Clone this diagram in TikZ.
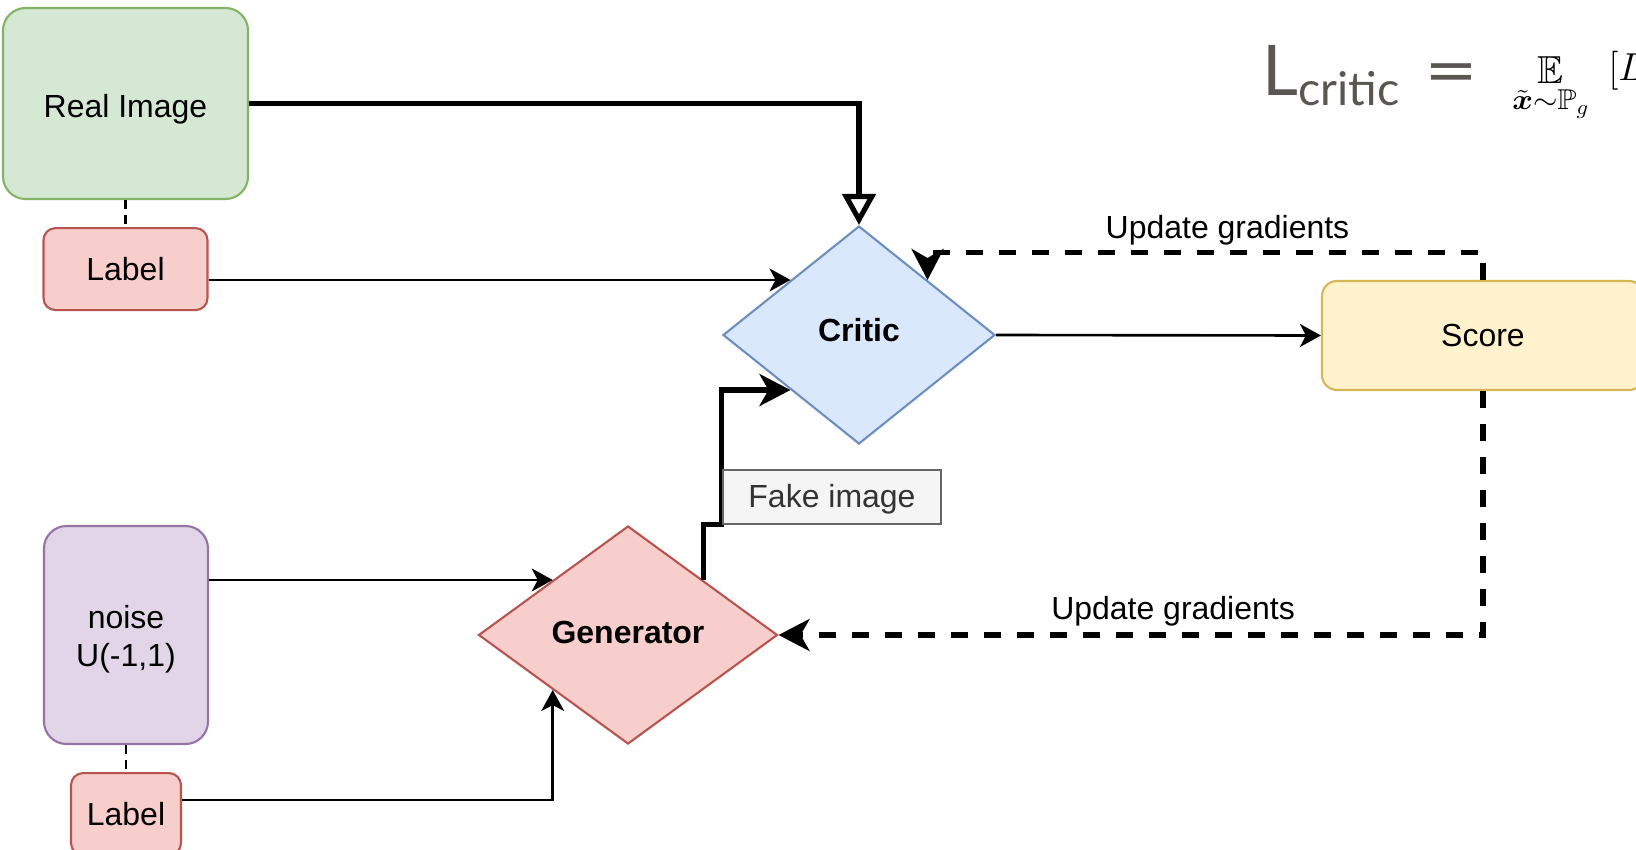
\RequirePackage{fix-cm}
\documentclass[tikz,border=0pt]{standalone}
\usepackage{amsmath,amssymb,graphicx}
\usepackage[no-math]{fontspec}
\setmainfont{Liberation Sans}
\newfontfamily\lossfont{Lato}
\usepackage{xcolor}
\usetikzlibrary{shapes.geometric,arrows.meta,positioning,calc}

\definecolor{realfill}{HTML}{D5E8D4}
\definecolor{realdraw}{HTML}{82B366}
\definecolor{labfill}{HTML}{F8CECC}
\definecolor{labdraw}{HTML}{B85450}
\definecolor{noisefill}{HTML}{E1D5E7}
\definecolor{noisedraw}{HTML}{9673A6}
\definecolor{criticfill}{HTML}{DAE8FC}
\definecolor{criticdraw}{HTML}{6C8EBF}
\definecolor{scorefill}{HTML}{FFF2CC}
\definecolor{scoredraw}{HTML}{D6B656}
\definecolor{fakefill}{HTML}{F5F5F5}
\definecolor{fakedraw}{HTML}{666666}
\definecolor{faketext}{HTML}{333333}
\definecolor{lossgray}{HTML}{5A5651}

% move a node text up or down without changing its box
\newcommand{\nudge}[2]{\raisebox{#1}[\height][\depth]{#2}}

\begin{document}
\begin{tikzpicture}[
    font=\fontsize{18.2}{21.6}\selectfont,
    box/.style={draw, rounded corners=0.45cm, line width=1.2pt, align=center, inner sep=0pt},
    labelbox/.style={draw=labdraw, fill=labfill, rounded corners=0.24cm, line width=1.2pt, inner sep=0pt, minimum height=1.64cm},
    netdiamond/.style={diamond, draw, line width=1.2pt, inner sep=0pt, font=\fontsize{18.2}{21.6}\selectfont\bfseries},
    thinarrow/.style={line width=1.5pt, -{Stealth[length=0.42cm, width=0.46cm, inset=0.12cm]}},
    thickarrow/.style={line width=2.9pt, -{Stealth[length=0.62cm, width=0.64cm, inset=0.18cm]}},
    gradarrow/.style={thickarrow, dash pattern=on 0.33cm off 0.33cm},
    gradtext/.style={inner sep=0pt}
]
    \useasboundingbox (0,0) rectangle (32.72,-17);
    \clip (0,0) rectangle (32.72,-17);

    % inputs on the left
    \node[box, fill=realfill, draw=realdraw, minimum width=4.9cm, minimum height=3.82cm] (real) at (2.51,-2.07) {\nudge{-0.11cm}{Real Image}};
    \node[labelbox, minimum width=3.28cm, below=0.54cm of real] (lab1) {Label};
    \node[box, fill=noisefill, draw=noisedraw, minimum width=3.28cm, minimum height=4.36cm] (noise) at (2.52,-12.7) {\nudge{-0.09cm}{\begin{tabular}{@{}c@{}}noise\\U(-1,1)\end{tabular}}};
    \node[labelbox, minimum width=2.2cm, below=0.54cm of noise] (lab2) {Label};
    \draw[line width=1.2pt, dash pattern=on 0.18cm off 0.12cm] (real) -- (lab1);
    \draw[line width=1.2pt, dash pattern=on 0.18cm off 0.12cm] (noise) -- (lab2);

    % networks and score
    \node[netdiamond, fill=criticfill, draw=criticdraw, minimum width=5.44cm, minimum height=4.36cm] (critic) at (17.18,-6.7) {\nudge{0.09cm}{Critic}};
    \node[netdiamond, fill=labfill, draw=labdraw, minimum width=5.98cm, minimum height=4.36cm] (gen) at (12.56,-12.7) {\nudge{0.06cm}{Generator}};
    \node[box, rounded corners=0.3cm, fill=scorefill, draw=scoredraw, minimum width=6.44cm, minimum height=2.18cm] (score) at (29.66,-6.71) {Score};

    \coordinate (cin1) at ($(critic.west)!0.5!(critic.north)$);
    \coordinate (cin2) at ($(critic.west)!0.5!(critic.south)$);
    \coordinate (cin3) at ($(critic.east)!0.5!(critic.north)$);
    \coordinate (gin1) at ($(gen.west)!0.5!(gen.north)$);
    \coordinate (gin2) at ($(gen.west)!0.5!(gen.south)$);
    \coordinate (gout) at ($(gen.east)!0.5!(gen.north)$);

    \draw[line width=2.9pt, -{Triangle[open, length=0.62cm, width=0.66cm]}] (real.east) -| (critic.north);
    \draw[thinarrow] (lab1.east |- cin1) -- (cin1);
    \draw[thinarrow] (noise.east |- gin1) -- (gin1);
    \draw[thinarrow] ([yshift=0.28cm]lab2.east) -| (gin2);
    \draw[thickarrow] (gout) |- (critic.west |- gen.north) |- (cin2);
    \node[draw=fakedraw, fill=fakefill, text=faketext, line width=1.2pt, inner sep=0pt, minimum width=4.36cm, minimum height=1.08cm, anchor=south west] (fake) at (critic.west |- gen.north) {\nudge{-0.05cm}{Fake image}};
    \draw[thinarrow] (critic.east) -- (score.west);

    % gradient feedback
    \draw[gradarrow] (score.north) -- ++(0,0.55) -| node[gradtext, pos=0.23, above=0.1cm] (upd1) {Update gradients} (cin3);
    \draw[gradarrow] (score.south) |- node[gradtext, pos=0.72, above=0.12cm] (upd2) {Update gradients} (gen.east);

    % loss formula, cut at the edge
    \node[anchor=base west, inner sep=0pt, text=lossgray, font=\lossfont\fontsize{39.8}{40}\selectfont] (lossname) at (25.24,-1.9) {L\raisebox{-0.2cm}{\fontsize{26.5}{27}\selectfont critic}\hspace{0.5cm}\scalebox{1.33}[1]{=}};
    \node[anchor=base west, inner sep=0pt, font=\fontsize{22.2}{26}\selectfont] (lossmath) at (30.24,-1.6) {$\displaystyle\mathop{\mathbb{E}}_{\scalebox{1.15}[1.05]{$\scriptstyle\tilde{\boldsymbol{x}}\sim\mathbb{P}_g$}}\mkern9mu[L$};
\end{tikzpicture}
\end{document}
